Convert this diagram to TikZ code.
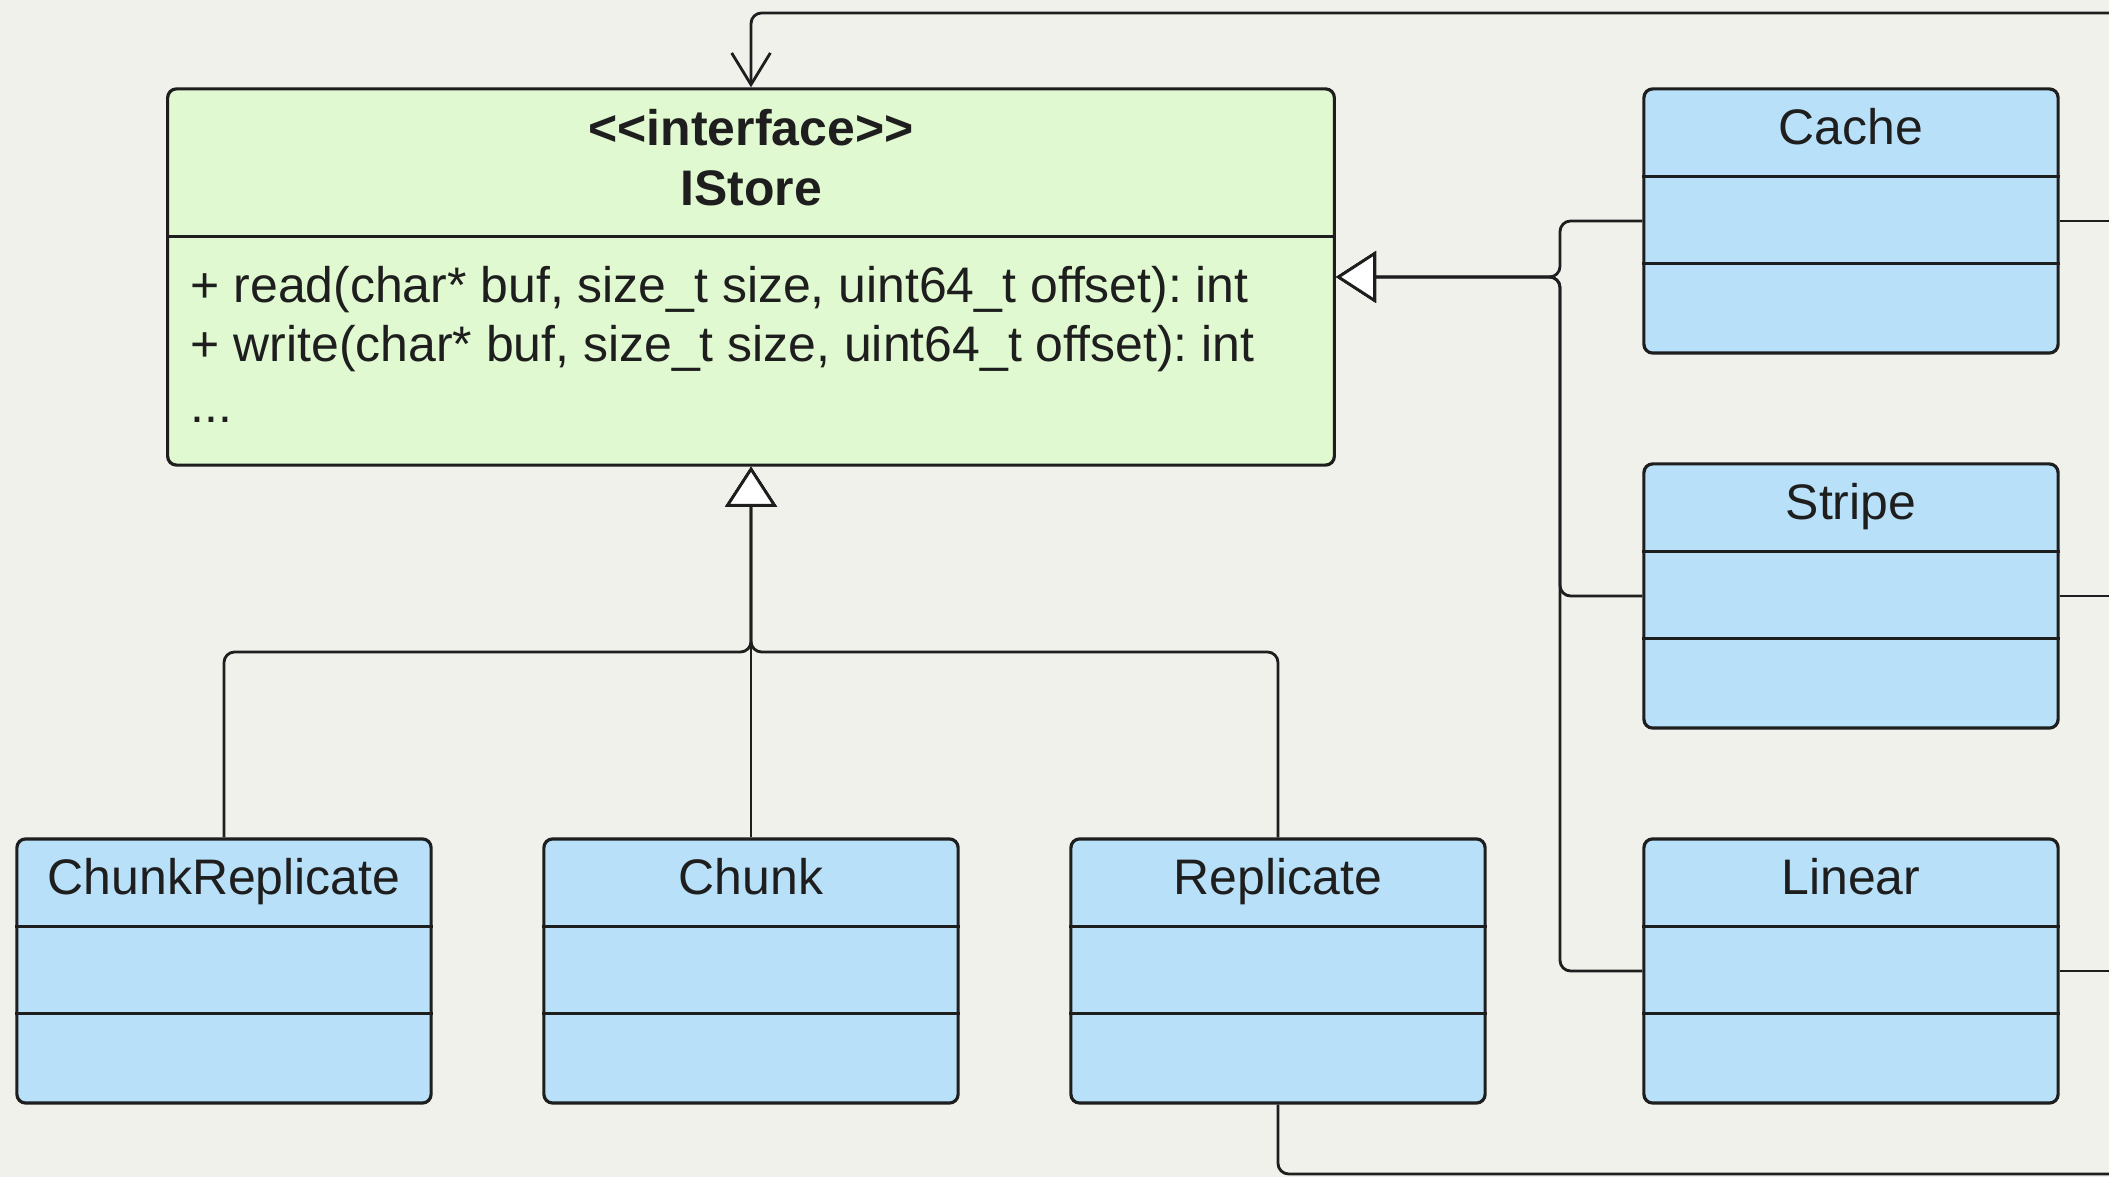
\documentclass[tikz,border=0pt]{standalone}
\usepackage{fontspec}
\setmainfont{Liberation Sans}[Ligatures=TeXOff]
\usetikzlibrary{arrows.meta}

\definecolor{bgcol}{RGB}{241,241,236}
\definecolor{ifacefill}{RGB}{224,249,208}
\definecolor{classfill}{RGB}{184,224,248}
\definecolor{linecol}{RGB}{30,30,30}

\frenchspacing

\begin{document}
\begin{tikzpicture}[x=0.01cm, y=-0.01cm,
  box/.style={draw=linecol, line width=0.9pt, rounded corners=2.5pt, inner sep=0pt},
  classbox/.style={box, fill=classfill, minimum width=4.14cm, minimum height=2.64cm},
  sep/.style={draw=linecol, line width=0.8pt},
  conn/.style={draw=linecol, line width=0.8pt, rounded corners=3pt},
  txt/.style={inner sep=0pt, text=linecol, font=\fontsize{14.2}{17}\selectfont},
  realize/.style={-{Triangle[length=11.4pt, width=14.6pt, fill=white]}},
  assoc/.style={-{Straight Barb[length=9pt, width=11pt]}}
]
% Background
\fill[bgcol] (0,0) rectangle (2109,1177);
\useasboundingbox (0,0) rectangle (2109,1177);

% Interface
\node[box, fill=ifacefill, minimum width=11.66cm, minimum height=3.76cm] (istore) at (751,277) {};
\draw[sep] ([yshift=-1.49cm]istore.north west) -- ([yshift=-1.49cm]istore.north east);
\node[txt, anchor=base, font=\fontsize{14.2}{17}\selectfont\bfseries] (stereo) at (751,146) {<<interface>>};
\node[txt, anchor=base, font=\fontsize{14.2}{17}\selectfont\bfseries] (ifname) at (751,206) {IStore};
\node[txt, anchor=base west] (readop) at (190,303) {+ read(char* buf, size\_t size, uint64\_t offset): int};
\node[txt, anchor=base west] (writeop) at (190,362) {+ write(char* buf, size\_t size, uint64\_t offset): int};
\node[txt, anchor=base west] (moreops) at (190,423) {...};

% Classes
\foreach \n/\x/\y/\t in {cache/1851/221/Cache, stripe/1851/596/Stripe, linear/1851/971/Linear,
    chunkrep/224/971/ChunkReplicate, chunk/751/971/Chunk, replicate/1278/971/Replicate}{
  \node[classbox] (\n) at (\x,\y) {};
  \node[txt, anchor=base] (\n-name) at ([yshift=-0.57cm]\n.north) {\t};
  \draw[sep] ([yshift=-0.89cm]\n.north west) -- ([yshift=-0.89cm]\n.north east);
  \draw[sep] ([yshift=-1.76cm]\n.north west) -- ([yshift=-1.76cm]\n.north east);
}

% Junctions and free ends
\coordinate (rjoin) at (1560,277);
\coordinate (bjoin) at (751,652);
\coordinate (rightedge) at (2109,0);
\coordinate (topout) at (2109,13);
\coordinate (botout) at (2109,1174);

% Realizations
\foreach \n in {cache, stripe, linear}
  \draw[conn, realize] (\n.west) -| (rjoin) -- (istore.east);
\foreach \n in {chunkrep, replicate}
  \draw[conn, realize] (\n.north) |- (bjoin) -- (istore.south);
\draw[conn, realize] (chunk.north) -- (istore.south);

% Lines leaving the picture
\foreach \n in {cache, stripe, linear}
  \draw[conn] (\n.east) -- (\n.east -| rightedge);
\draw[conn, assoc] (topout) -| (istore.north);
\draw[conn] (replicate.south) |- (botout);

\end{tikzpicture}
\end{document}
